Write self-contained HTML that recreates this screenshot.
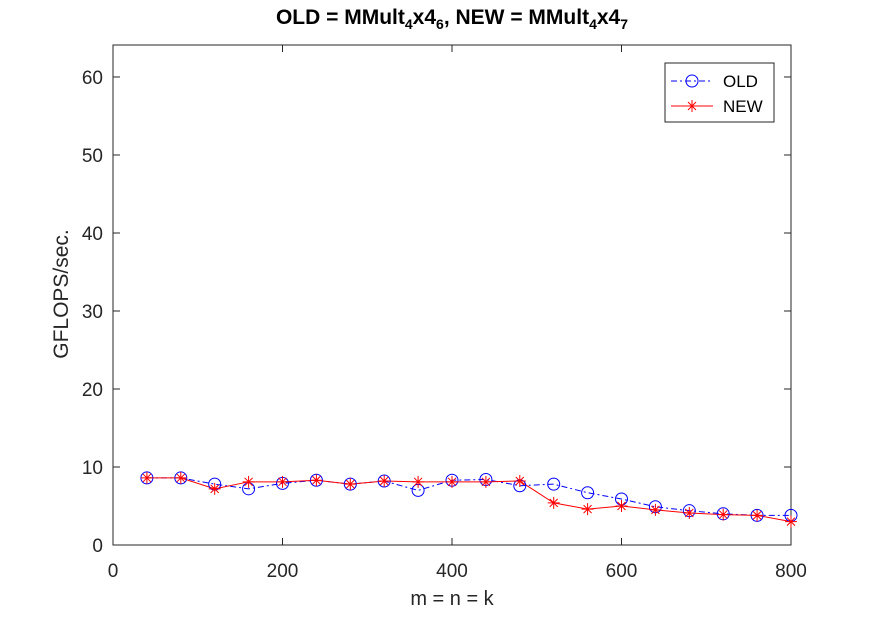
<!DOCTYPE html>
<html><head><meta charset="utf-8"><style>
body{margin:0;background:#fff;font-family:"Liberation Sans",sans-serif}
</style></head><body>
<svg id="chart" width="874" height="612" xmlns="http://www.w3.org/2000/svg">
<rect width="874" height="612" fill="#fff"/>
<text x="452" y="24" text-anchor="middle" font-size="21" font-weight="bold">OLD = MMult<tspan font-size="14" dy="5">4</tspan><tspan dy="-5">x4</tspan><tspan font-size="14" dy="5">6</tspan><tspan dy="-5">, NEW = MMult</tspan><tspan font-size="14" dy="5">4</tspan><tspan dy="-5">x4</tspan><tspan font-size="14" dy="5">7</tspan></text>
<rect x="113" y="45" width="678" height="500" fill="none" stroke="#262626" stroke-width="1"/>
<g id="axes"></g>
<g id="series"></g>
<text x="452" y="605" text-anchor="middle" font-size="20" fill="#262626">m = n = k</text>
<text transform="translate(68,294) rotate(-90)" text-anchor="middle" font-size="21" fill="#262626">GFLOPS/sec.</text>
<g>
<rect x="665" y="63" width="109" height="59" fill="#fff" stroke="#262626" stroke-width="1"/>
<g>
<line x1="671" y1="81" x2="713" y2="81" stroke="#0000ff" stroke-dasharray="6,3,2,3"/>
<circle cx="692" cy="81" r="6" fill="none" stroke="#0000ff"/>
<text x="723" y="87" font-size="17" fill="#000">OLD</text></g>
<g>
<line x1="671" y1="106" x2="713" y2="106" stroke="#ff0000"/>
<path d="M686,106h12M692,100v12M688,102l8,8M696,102l-8,8" stroke="#ff0000"/>
<text x="723" y="112" font-size="17" fill="#000">NEW</text></g>
</g>
</svg>
<script>
const xs=[40,80,120,160,200,240,280,320,360,400,440,480,520,560,600,640,680,720,760,800];
const oldVals=[8.6,8.6,7.8,7.2,7.9,8.3,7.8,8.2,7.0,8.3,8.4,7.6,7.8,6.7,5.9,4.9,4.4,4.0,3.8,3.8];
const newVals=[8.6,8.6,7.2,8.1,8.1,8.3,7.8,8.2,8.1,8.1,8.1,8.2,5.4,4.6,5.0,4.5,4.1,3.9,3.8,3.0];
const xTicks=[0,200,400,600,800];
const yTicks=[0,10,20,30,40,50,60];
const NS="http://www.w3.org/2000/svg";
const X=v=>113+v/800*678;
const Y=v=>545-v/64.1*500;
function mk(t,a,p){const e=document.createElementNS(NS,t);for(const k in a)e.setAttribute(k,a[k]);p.appendChild(e);return e;}
const ax=document.getElementById('axes');
xTicks.forEach(t=>{
 const l=mk('line',{x1:X(t),x2:X(t),y1:545,y2:538,stroke:'#262626'},ax);
 
 
 const l2=mk('line',{x1:X(t),x2:X(t),y1:45,y2:52,stroke:'#262626'},ax);
 
 
 const tx=mk('text',{x:X(t),y:577,'text-anchor':'middle','font-size':19,fill:'#262626'},ax);tx.textContent=t;
 
 
});
yTicks.forEach(t=>{
 const l=mk('line',{x1:113,x2:120,y1:Y(t),y2:Y(t),stroke:'#262626'},ax);
 
 
 const l2=mk('line',{x1:784,x2:791,y1:Y(t),y2:Y(t),stroke:'#262626'},ax);
 
 
 const tx=mk('text',{x:103,y:Y(t)+7,'text-anchor':'end','font-size':19,fill:'#262626'},ax);tx.textContent=t;
 
 
});
const sg=document.getElementById('series');
const po=mk('polyline',{points:xs.map((x,i)=>X(x)+','+Y(oldVals[i])).join(' '),fill:'none',stroke:'#0000ff','stroke-dasharray':'6,3,2,3'},sg);


const pn=mk('polyline',{points:xs.map((x,i)=>X(x)+','+Y(newVals[i])).join(' '),fill:'none',stroke:'#ff0000'},sg);


xs.forEach((x,i)=>{
 const c=mk('circle',{cx:X(x),cy:Y(oldVals[i]),r:6,fill:'none',stroke:'#0000ff'},sg);
 
 
});
xs.forEach((x,i)=>{
 const cx=X(x),cy=Y(newVals[i]);
 const p=mk('path',{d:`M${cx-6},${cy}h12M${cx},${cy-6}v12M${cx-4},${cy-4}l8,8M${cx+4},${cy-4}l-8,8`,stroke:'#ff0000'},sg);
 
 
});
</script>
</body></html>
